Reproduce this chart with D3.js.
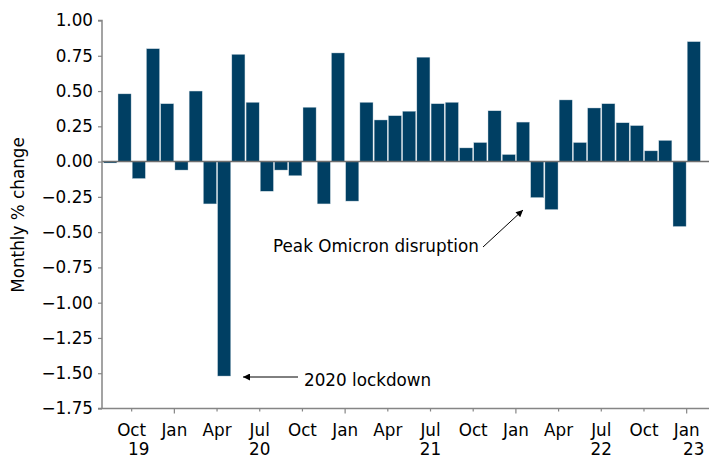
<!DOCTYPE html>
<html>
<head>
<meta charset="utf-8">
<script src="https://cdn.jsdelivr.net/npm/d3@7/dist/d3.min.js"></script>
<style>
  html, body { margin: 0; padding: 0; background: #ffffff; }
  svg { display: block; }
  text { font-family: "DejaVu Sans", Verdana, sans-serif; fill: #000; }
</style>
</head>
<body>
<svg id="chart" width="709" height="459"></svg>
<script>
// ---- data ----
const months = [
  "2019-08","2019-09","2019-10","2019-11","2019-12",
  "2020-01","2020-02","2020-03","2020-04","2020-05","2020-06","2020-07","2020-08","2020-09","2020-10","2020-11","2020-12",
  "2021-01","2021-02","2021-03","2021-04","2021-05","2021-06","2021-07","2021-08","2021-09","2021-10","2021-11","2021-12",
  "2022-01","2022-02","2022-03","2022-04","2022-05","2022-06","2022-07","2022-08","2022-09","2022-10","2022-11","2022-12",
  "2023-01"
];
const values = [
  -0.01, 0.48, -0.12, 0.80, 0.41,
  -0.06, 0.50, -0.30, -1.52, 0.76, 0.42, -0.21, -0.06, -0.10, 0.385, -0.30, 0.77,
  -0.28, 0.42, 0.295, 0.325, 0.357, 0.74, 0.41, 0.42, 0.097, 0.135, 0.36, 0.05,
  0.28, -0.255, -0.34, 0.437, 0.135, 0.38, 0.41, 0.275, 0.255, 0.076, 0.15, -0.46,
  0.85
];
const yTicks = [1.00, 0.75, 0.50, 0.25, 0.00, -0.25, -0.50, -0.75, -1.00, -1.25, -1.50, -1.75];
const monthTickKeys = ["2019-10","2020-01","2020-04","2020-07","2020-10","2021-01","2021-04","2021-07","2021-10","2022-01","2022-04","2022-07","2022-10","2023-01"];
const monthTickLabels = ["Oct","Jan","Apr","Jul","Oct","Jan","Apr","Jul","Oct","Jan","Apr","Jul","Oct","Jan"];
const yearLabelKeys = ["2019-10","2020-07","2021-07","2022-07","2023-01"];
const yearLabels = ["19","20","21","22","23"];
const yearLabelCentred = [true, false, false, false, true]; // centred on bar vs on month boundary
const annotations = [
  {text: "2020 lockdown", tx: 304, ty: 386, x1: 298, y1: 377, x2: 243, y2: 377},
  {text: "Peak Omicron disruption", tx: 273, ty: 252, x1: 483, y1: 247, x2: 523, y2: 210}
];

// ---- layout ----
const FS = "16.8px";
const svg = d3.select("#chart");
const W = 709;
const axisX = 102;
const y = d3.scaleLinear().domain([-1.75, 1.00]).range([408.5, 20.5]);
const x = d3.scaleBand().domain(months).range([103.2, 700.9]).paddingInner(0.08).paddingOuter(0.04);
const step = x.step();
const monthStart = m => x(m) - (step - x.bandwidth()) / 2;

const barColor = "#003f63";
const axisColor = "#858585";

// bars
svg.append("g").selectAll("rect")
  .data(months.map((m, i) => ({m, v: values[i]})))
  .join("rect")
  .attr("x", d => x(d.m))
  .attr("width", x.bandwidth())
  .attr("y", d => y(Math.max(0, d.v)))
  .attr("height", d => Math.abs(y(d.v) - y(0)))
  .attr("fill", barColor)
  .attr("stroke", "#c9d6df")
  .attr("stroke-width", 0.4);

// zero line
svg.append("line")
  .attr("x1", axisX).attr("x2", W)
  .attr("y1", y(0)).attr("y2", y(0))
  .attr("stroke", "#6e6e6e").attr("stroke-width", 1.5);

// y axis
const yAxis = d3.axisLeft(y).tickValues(yTicks).tickFormat(d3.format(".2f")).tickSize(4).tickPadding(6);
const gy = svg.append("g").attr("transform", `translate(${axisX},0)`).call(yAxis);
gy.select(".domain").attr("stroke", axisColor).attr("stroke-width", 1.5).attr("d", `M-4,${y(1)}H0V${y(-1.75)}`);
gy.selectAll(".tick line").attr("stroke", axisColor).attr("stroke-width", 1.2);
gy.selectAll(".tick text").style("font-size", FS).style("font-family", "'DejaVu Sans', Verdana, sans-serif").attr("fill", "#000").attr("x", -9);

// x axis line
svg.append("line")
  .attr("x1", axisX - 4).attr("x2", W)
  .attr("y1", y(-1.75)).attr("y2", y(-1.75))
  .attr("stroke", axisColor).attr("stroke-width", 1.5);

// x ticks (quarterly, Jan longer)
const xb = y(-1.75);
svg.append("g").selectAll("line")
  .data(monthTickKeys)
  .join("line")
  .attr("x1", d => monthStart(d)).attr("x2", d => monthStart(d))
  .attr("y1", xb).attr("y2", d => d.endsWith("-01") ? xb + 5 : xb + 3)
  .attr("stroke", axisColor).attr("stroke-width", 1.2);

// month labels
svg.append("g").selectAll("text")
  .data(monthTickKeys)
  .join("text")
  .attr("x", (d) => monthStart(d))
  .attr("y", 436)
  .attr("text-anchor", "middle")
  .style("font-size", FS)
  .text((d, i) => monthTickLabels[i]);

// year labels
svg.append("g").selectAll("text")
  .data(yearLabelKeys)
  .join("text")
  .attr("x", (d, i) => yearLabelCentred[i] ? x(d) + x.bandwidth() / 2 : monthStart(d))
  .attr("y", 455)
  .attr("text-anchor", "middle")
  .style("font-size", FS)
  .text((d, i) => yearLabels[i]);

// y axis title
svg.append("text")
  .attr("transform", "translate(24,215) rotate(-90)")
  .attr("text-anchor", "middle")
  .style("font-size", FS)
  .text("Monthly % change");

// annotations
const defs = svg.append("defs");
defs.append("marker")
  .attr("id", "arrow").attr("viewBox", "0 0 10 10")
  .attr("refX", 10).attr("refY", 5)
  .attr("markerWidth", 9).attr("markerHeight", 7)
  .attr("markerUnits", "userSpaceOnUse")
  .attr("orient", "auto")
  .append("path").attr("d", "M0,0L10,5L0,10Z").attr("fill", "#000");

const ga = svg.append("g");
annotations.forEach(a => {
  ga.append("line")
    .attr("x1", a.x1).attr("y1", a.y1).attr("x2", a.x2).attr("y2", a.y2)
    .attr("stroke", "#000").attr("stroke-width", 1)
    .attr("marker-end", "url(#arrow)");
  ga.append("text")
    .attr("x", a.tx).attr("y", a.ty)
    .style("font-size", FS)
    .text(a.text);
});
</script>
</body>
</html>
